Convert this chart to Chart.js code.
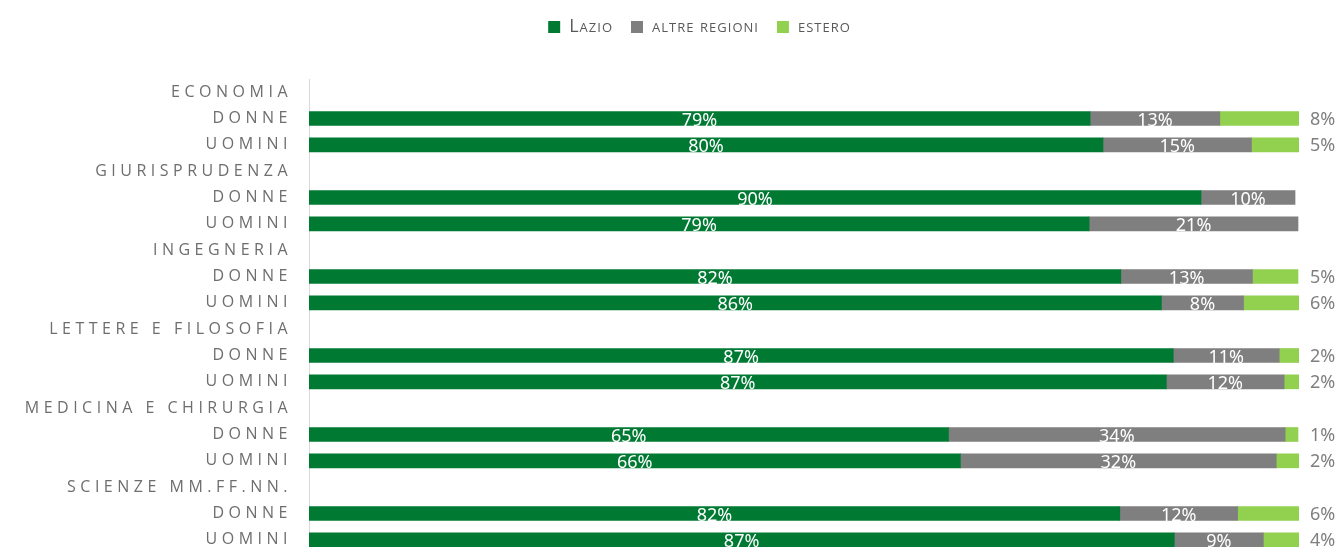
<!DOCTYPE html>
<html>
<head>
<meta charset="utf-8">
<script src="https://cdn.jsdelivr.net/npm/chart.js@4"></script>
<style>
  html, body { margin: 0; padding: 0; background: #fff; overflow: hidden; }
  #wrap { width: 1344px; height: 560px; }
</style>
</head>
<body>
<div id="wrap"><canvas id="provenienza" width="1344" height="560"></canvas></div>
<script>
// rows: faculty header followed by donne / uomini
const categories = ["ECONOMIA", "DONNE", "UOMINI", "GIURISPRUDENZA", "DONNE", "UOMINI",
    "INGEGNERIA", "DONNE", "UOMINI", "LETTERE E FILOSOFIA", "DONNE", "UOMINI",
    "MEDICINA E CHIRURGIA", "DONNE", "UOMINI", "SCIENZE MM.FF.NN.", "DONNE", "UOMINI"];
const seriesNames = ["Lazio", "altre regioni", "estero"];
const lazio  = [null, 78.9, 80.2, null, 90.1, 78.8, null, 82.0, 86.1, null, 87.3, 86.6, null, 64.6, 65.8, null, 81.9, 87.4];
const altre  = [null, 13.1, 15.0, null, 9.5, 21.1, null, 13.3, 8.3, null, 10.7, 11.9, null, 34.0, 31.9, null, 11.9, 9.0];
const estero = [null, 8.0, 4.8, null, null, null, null, 4.6, 5.7, null, 2.0, 1.5, null, 1.3, 2.3, null, 6.2, 3.6];
const colors = ["#007a33", "#7f7f7f", "#92d050"];

const valueLabels = {
    id: "valueLabels",
    // legend text is a little spaced out
    beforeLayout: function (chart) { chart.ctx.letterSpacing = "1px"; },
    beforeDraw: function (chart) { chart.ctx.letterSpacing = "1px"; },
    beforeDatasetsDraw: function (chart) { chart.ctx.letterSpacing = "0px"; },
    afterDatasetsDraw: function (chart) {
        const ctx = chart.ctx;
        const xScale = chart.scales.x;
        ctx.save();
        ctx.font = "18px 'Noto Sans'";
        ctx.textBaseline = "middle";
        chart.data.datasets.forEach(function (ds, di) {
            const meta = chart.getDatasetMeta(di);
            meta.data.forEach(function (el, i) {
                const v = ds.data[i];
                if (v === null) return;
                const txt = Math.round(v) + "%";
                if (di < 2) {
                    ctx.fillStyle = "#ffffff";
                    ctx.textAlign = "center";
                    ctx.fillText(txt, (el.x + el.base) / 2, el.y + 2);
                } else {
                    ctx.fillStyle = "#7f7f7f";
                    ctx.textAlign = "left";
                    ctx.fillText(txt, xScale.getPixelForValue(100) + 11, el.y + 1);
                }
            });
        });
        ctx.restore();
        // y tick labels are drawn after this (ticks.z = 1), spaced out
        ctx.letterSpacing = "4.5px";
    }
};

new Chart("provenienza", {
    type: "bar",
    data: {
        labels: categories,
        datasets: [
            { label: seriesNames[0], data: lazio, backgroundColor: colors[0] },
            { label: seriesNames[1], data: altre, backgroundColor: colors[1] },
            { label: seriesNames[2], data: estero, backgroundColor: colors[2] }
        ]
    },
    options: {
        indexAxis: "y",
        responsive: false,
        animation: false,
        layout: { padding: { left: 100, right: 45, top: 0, bottom: 7 } },
        datasets: { bar: { barThickness: 14 } },
        scales: {
            x: {
                stacked: true, min: 0, max: 100, position: "top",
                afterFit: function (scale) { scale.height = 33; },
                ticks: { display: false },
                grid: { display: false },
                border: { display: false }
            },
            y: {
                stacked: true,
                afterFit: function (scale) {
                    scale.width = 209;
                    scale.paddingTop = 0;
                    scale.paddingBottom = 0;
                    scale._computeLabelArea = function () { return undefined; };
                },
                grid: { display: true, drawOnChartArea: false, drawTicks: false, color: "transparent" },
                border: { display: true, color: "#d9d9d9" },
                ticks: { z: 1, color: "#6e6e6e", font: { family: "'Open Sans'", size: 16 }, padding: 17, autoSkip: false }
            }
        },
        plugins: {
            legend: {
                position: "top",
                labels: {
                    boxWidth: 12, boxHeight: 12, padding: 18,
                    color: "#595959",
                    font: { family: "'Open Sans'", size: 18, weight: "small-caps" }
                }
            },
            tooltip: { enabled: false }
        }
    },
    plugins: [valueLabels]
});
</script>
</body>
</html>
